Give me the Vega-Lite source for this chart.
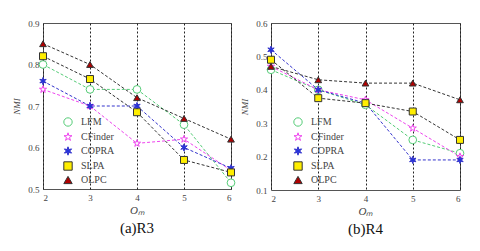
{
  "$schema": "https://vega.github.io/schema/vega-lite/v6.json",
  "padding": {"top": 18, "left": 12, "right": 0, "bottom": 0},
  "background": "white",
  "spacing": 2,
  "config": {
    "font": "Liberation Serif",
    "view": {"stroke": "#555", "strokeWidth": 1},
    "axis": {"labelFont": "Liberation Serif", "titleFont": "Liberation Serif", "labelFontSize": 9, "labelColor": "#444", "domain": false, "ticks": false, "labelPadding": 4},
    "legend": {"labelFont": "Liberation Serif", "labelFontSize": 10, "labelColor": "#444"}
  },
  "datasets": {
    "r3": [
      {"series": "LFM", "om": 2, "nmi": 0.80}, {"series": "LFM", "om": 3, "nmi": 0.74}, {"series": "LFM", "om": 4, "nmi": 0.74}, {"series": "LFM", "om": 5, "nmi": 0.655}, {"series": "LFM", "om": 6, "nmi": 0.515},
      {"series": "CFinder", "om": 2, "nmi": 0.74}, {"series": "CFinder", "om": 3, "nmi": 0.70}, {"series": "CFinder", "om": 4, "nmi": 0.61}, {"series": "CFinder", "om": 5, "nmi": 0.62}, {"series": "CFinder", "om": 6, "nmi": 0.545},
      {"series": "COPRA", "om": 2, "nmi": 0.76}, {"series": "COPRA", "om": 3, "nmi": 0.70}, {"series": "COPRA", "om": 4, "nmi": 0.70}, {"series": "COPRA", "om": 5, "nmi": 0.60}, {"series": "COPRA", "om": 6, "nmi": 0.55},
      {"series": "SLPA", "om": 2, "nmi": 0.82}, {"series": "SLPA", "om": 3, "nmi": 0.765}, {"series": "SLPA", "om": 4, "nmi": 0.685}, {"series": "SLPA", "om": 5, "nmi": 0.57}, {"series": "SLPA", "om": 6, "nmi": 0.54},
      {"series": "OLPC", "om": 2, "nmi": 0.85}, {"series": "OLPC", "om": 3, "nmi": 0.80}, {"series": "OLPC", "om": 4, "nmi": 0.72}, {"series": "OLPC", "om": 5, "nmi": 0.67}, {"series": "OLPC", "om": 6, "nmi": 0.62}
    ],
    "r4": [
      {"series": "LFM", "om": 2, "nmi": 0.46}, {"series": "LFM", "om": 3, "nmi": 0.40}, {"series": "LFM", "om": 4, "nmi": 0.355}, {"series": "LFM", "om": 5, "nmi": 0.25}, {"series": "LFM", "om": 6, "nmi": 0.21},
      {"series": "CFinder", "om": 2, "nmi": 0.47}, {"series": "CFinder", "om": 3, "nmi": 0.40}, {"series": "CFinder", "om": 4, "nmi": 0.37}, {"series": "CFinder", "om": 5, "nmi": 0.285}, {"series": "CFinder", "om": 6, "nmi": 0.20},
      {"series": "COPRA", "om": 2, "nmi": 0.52}, {"series": "COPRA", "om": 3, "nmi": 0.40}, {"series": "COPRA", "om": 4, "nmi": 0.36}, {"series": "COPRA", "om": 5, "nmi": 0.19}, {"series": "COPRA", "om": 6, "nmi": 0.19},
      {"series": "SLPA", "om": 2, "nmi": 0.49}, {"series": "SLPA", "om": 3, "nmi": 0.375}, {"series": "SLPA", "om": 4, "nmi": 0.36}, {"series": "SLPA", "om": 5, "nmi": 0.335}, {"series": "SLPA", "om": 6, "nmi": 0.25},
      {"series": "OLPC", "om": 2, "nmi": 0.47}, {"series": "OLPC", "om": 3, "nmi": 0.43}, {"series": "OLPC", "om": 4, "nmi": 0.42}, {"series": "OLPC", "om": 5, "nmi": 0.42}, {"series": "OLPC", "om": 6, "nmi": 0.37}
    ]
  },
  "resolve": {"legend": {"stroke": "independent", "fill": "independent", "shape": "independent"}},
  "hconcat": [
    {
      "width": 188, "height": 166,
      "data": {"name": "r3"},
      "title": {"text": "(a)R3", "orient": "bottom", "fontSize": 15, "fontWeight": "normal", "font": "Liberation Serif", "offset": 6, "color": "#111"},
      "encoding": {
        "x": {"field": "om", "type": "quantitative", "scale": {"domain": [2, 6], "nice": false, "zero": false},
              "axis": {"values": [2, 3, 4, 5, 6], "format": "d", "title": "Oₘ", "titleFontStyle": "italic", "titleFontWeight": "normal", "titleFontSize": 11, "titleColor": "#444", "titlePadding": 2, "grid": true, "gridDash": [2, 2], "gridColor": "#222", "gridOpacity": 1}},
        "y": {"field": "nmi", "type": "quantitative", "scale": {"domain": [0.5, 0.9], "nice": false, "zero": false},
              "axis": {"values": [0.5, 0.6, 0.7, 0.8, 0.9], "format": ".1f", "title": "NMI", "titleFontStyle": "italic", "titleFontWeight": "normal", "titleFontSize": 9, "titleColor": "#444", "titlePadding": 6, "grid": false}}
      },
      "layer": [
        {"mark": {"type": "line", "strokeDash": [3, 2], "strokeWidth": 1},
         "encoding": {"stroke": {"field": "series", "type": "nominal", "title": null, "scale": {"domain": ["LFM", "CFinder", "COPRA", "SLPA", "OLPC"], "range": ["#55cc77", "#ee44ee", "#3333cc", "#333333", "#333333"]}}}},
        {"mark": {"type": "point", "filled": false, "strokeWidth": 1, "opacity": 1},
         "encoding": {
           "stroke": {"field": "series", "type": "nominal", "title": null, "legend": {"orient": "none", "legendX": 20, "legendY": 94, "rowPadding": 1, "symbolSize": 70, "labelOffset": 8, "symbolStrokeWidth": 1}},
           "fill": {"field": "series", "type": "nominal", "title": null, "scale": {"domain": ["LFM", "CFinder", "COPRA", "SLPA", "OLPC"], "range": ["#ffffff", "#ffffff", "#2233dd", "#ffee00", "#b00000"]}, "legend": {"orient": "none", "legendX": 20, "legendY": 94, "rowPadding": 1, "symbolSize": 70, "labelOffset": 8}},
           "shape": {"field": "series", "type": "nominal", "title": null, "scale": {"domain": ["LFM", "CFinder", "COPRA", "SLPA", "OLPC"], "range": ["circle", "M0,-1L0.22,-0.31L0.95,-0.31L0.36,0.12L0.59,0.81L0,0.38L-0.59,0.81L-0.36,0.12L-0.95,-0.31L-0.22,-0.31Z", "M0,-1L0.2,-0.35L0.87,-0.5L0.4,0L0.87,0.5L0.2,0.35L0,1L-0.2,0.35L-0.87,0.5L-0.4,0L-0.87,-0.5L-0.2,-0.35Z", "square", "triangle-up"]}, "legend": {"orient": "none", "legendX": 20, "legendY": 94, "rowPadding": 1, "symbolSize": 70, "labelOffset": 8}},
           "size": {"field": "series", "type": "nominal", "scale": {"domain": ["LFM", "CFinder", "COPRA", "SLPA", "OLPC"], "range": [60, 45, 40, 85, 75]}, "legend": null}
         }}
      ]
    },
    {
      "width": 189, "height": 167,
      "data": {"name": "r4"},
      "title": {"text": "(b)R4", "orient": "bottom", "fontSize": 15, "fontWeight": "normal", "font": "Liberation Serif", "offset": 6, "color": "#111"},
      "encoding": {
        "x": {"field": "om", "type": "quantitative", "scale": {"domain": [2, 6], "nice": false, "zero": false},
              "axis": {"values": [2, 3, 4, 5, 6], "format": "d", "title": "Oₘ", "titleFontStyle": "italic", "titleFontWeight": "normal", "titleFontSize": 11, "titleColor": "#444", "titlePadding": 2, "grid": true, "gridDash": [2, 2], "gridColor": "#222", "gridOpacity": 1}},
        "y": {"field": "nmi", "type": "quantitative", "scale": {"domain": [0.1, 0.6], "nice": false, "zero": false},
              "axis": {"values": [0.1, 0.2, 0.3, 0.4, 0.5, 0.6], "format": ".1f", "title": "NMI", "titleFontStyle": "italic", "titleFontWeight": "normal", "titleFontSize": 9, "titleColor": "#444", "titlePadding": 6, "grid": false}}
      },
      "layer": [
        {"mark": {"type": "line", "strokeDash": [3, 2], "strokeWidth": 1},
         "encoding": {"stroke": {"field": "series", "type": "nominal", "title": null, "scale": {"domain": ["LFM", "CFinder", "COPRA", "SLPA", "OLPC"], "range": ["#55cc77", "#ee44ee", "#3333cc", "#333333", "#333333"]}}}},
        {"mark": {"type": "point", "filled": false, "strokeWidth": 1, "opacity": 1},
         "encoding": {
           "stroke": {"field": "series", "type": "nominal", "title": null, "legend": {"orient": "none", "legendX": 22, "legendY": 94, "rowPadding": 1, "symbolSize": 70, "labelOffset": 8, "symbolStrokeWidth": 1}},
           "fill": {"field": "series", "type": "nominal", "title": null, "scale": {"domain": ["LFM", "CFinder", "COPRA", "SLPA", "OLPC"], "range": ["#ffffff", "#ffffff", "#2233dd", "#ffee00", "#b00000"]}, "legend": {"orient": "none", "legendX": 22, "legendY": 94, "rowPadding": 1, "symbolSize": 70, "labelOffset": 8}},
           "shape": {"field": "series", "type": "nominal", "title": null, "scale": {"domain": ["LFM", "CFinder", "COPRA", "SLPA", "OLPC"], "range": ["circle", "M0,-1L0.22,-0.31L0.95,-0.31L0.36,0.12L0.59,0.81L0,0.38L-0.59,0.81L-0.36,0.12L-0.95,-0.31L-0.22,-0.31Z", "M0,-1L0.2,-0.35L0.87,-0.5L0.4,0L0.87,0.5L0.2,0.35L0,1L-0.2,0.35L-0.87,0.5L-0.4,0L-0.87,-0.5L-0.2,-0.35Z", "square", "triangle-up"]}, "legend": {"orient": "none", "legendX": 22, "legendY": 94, "rowPadding": 1, "symbolSize": 70, "labelOffset": 8}},
           "size": {"field": "series", "type": "nominal", "scale": {"domain": ["LFM", "CFinder", "COPRA", "SLPA", "OLPC"], "range": [60, 45, 40, 85, 75]}, "legend": null}
         }}
      ]
    }
  ]
}
